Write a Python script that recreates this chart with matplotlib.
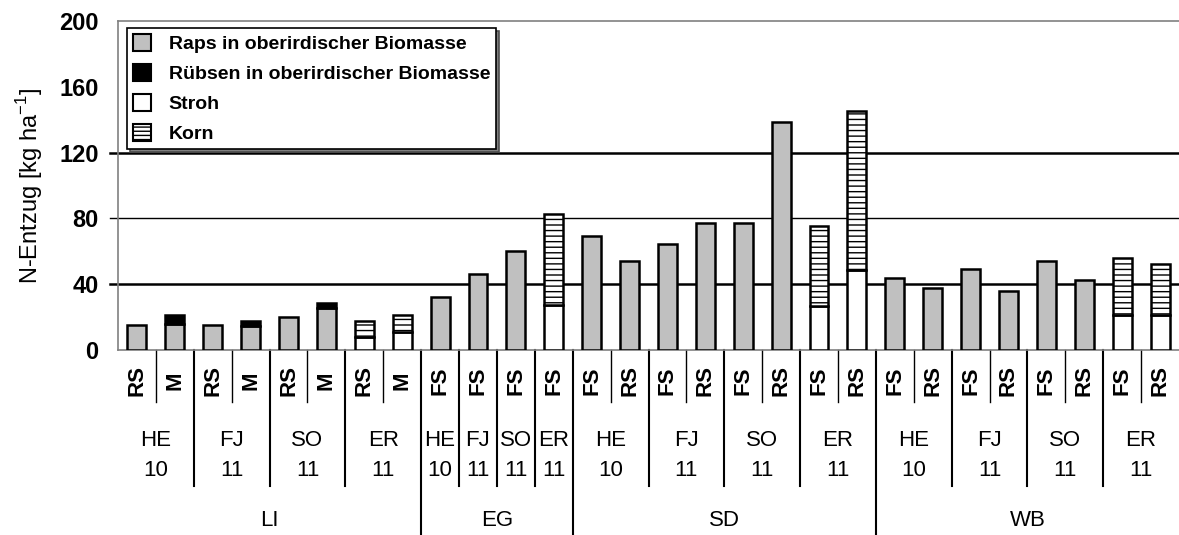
import numpy as np
import matplotlib.pyplot as plt
from matplotlib.patches import Patch
from matplotlib.lines import Line2D

plt.rcParams['font.family'] = ['Liberation Sans', 'DejaVu Sans']
plt.rcParams['hatch.linewidth'] = 1.0

# Varianten je Balken (Zeile 1 der x-Achse)
varianten = ['RS', 'M'] * 4 + ['FS'] * 4 + ['FS', 'RS'] * 8

# Standort/Jahr-Gruppen: (Kürzel, Jahr, Anzahl Balken)
gruppen = [('HE', '10', 2), ('FJ', '11', 2), ('SO', '11', 2), ('ER', '11', 2),
           ('HE', '10', 1), ('FJ', '11', 1), ('SO', '11', 1), ('ER', '11', 1),
           ('HE', '10', 2), ('FJ', '11', 2), ('SO', '11', 2), ('ER', '11', 2),
           ('HE', '10', 2), ('FJ', '11', 2), ('SO', '11', 2), ('ER', '11', 2)]

standorte = [('LI', 8), ('EG', 4), ('SD', 8), ('WB', 8)]

# N-Entzug [kg/ha]
raps = [15, 16, 15, 14.5, 20, 25.5, 0, 0,
        32, 46.5, 60, 0,
        69.5, 54, 64.5, 77, 77, 138.5, 0, 0,
        44, 37.5, 49, 36, 54, 42.5, 0, 0]
ruebsen = [0, 5, 0, 3, 0, 3, 0, 0,
           0, 0, 0, 0,
           0, 0, 0, 0, 0, 0, 0, 0,
           0, 0, 0, 0, 0, 0, 0, 0]
stroh = [0, 0, 0, 0, 0, 0, 8, 11,
         0, 0, 0, 27.5,
         0, 0, 0, 0, 0, 0, 27, 48.5,
         0, 0, 0, 0, 0, 0, 21, 21]
korn = [0, 0, 0, 0, 0, 0, 9.5, 10,
        0, 0, 0, 55,
        0, 0, 0, 0, 0, 0, 48.5, 96.5,
        0, 0, 0, 0, 0, 0, 35, 31.5]

W, H = 1179, 535
fig = plt.figure(figsize=(W / 100, H / 100), dpi=100)
ax = fig.add_axes([118 / W, (H - 350) / H, 1061 / W, 329 / H])

n = len(varianten)
x = np.arange(n)
raps, ruebsen, stroh, korn = map(np.array, (raps, ruebsen, stroh, korn))


def balken(werte, unten, **kw):
    m = werte > 0
    ax.bar(x[m], werte[m], bottom=unten[m], width=0.5, edgecolor='black',
           linewidth=1.8, zorder=3, **kw)


null = np.zeros(n)
balken(raps, null, color='#c0c0c0')
balken(ruebsen, raps, color='black')
balken(stroh, null, color='white')
balken(korn, stroh, color='white', hatch='---')

ax.set_xlim(-0.5, n - 0.5)
ax.set_ylim(0, 200)
ax.set_yticks([0, 40, 80, 120, 160, 200])
ax.tick_params(axis='y', length=0, pad=14, labelsize=17)
for t in ax.get_yticklabels():
    t.set_fontweight('bold')
ax.set_xticks([])

for v, lw in [(40, 1.8), (80, 1.0), (120, 1.8)]:
    ax.plot([-0.72, n - 0.5], [v, v], color='black', lw=lw, clip_on=False, zorder=2)

for s in ['left', 'top', 'bottom']:
    ax.spines[s].set_color('#808080')
    ax.spines[s].set_linewidth(1.2)
ax.spines['right'].set_visible(False)

ax.set_ylabel('N-Entzug [kg ha$^{\\mathregular{-1}}$]', fontsize=17, labelpad=10)

# Beschriftung unter der x-Achse
def ypos(pix):
    return (350 - pix) / 329.0


tr = ax.get_xaxis_transform()
for i, v in enumerate(varianten):
    ax.text(i, ypos(381), v, rotation=90, ha='center', va='center',
            fontsize=16, fontweight='bold', transform=tr)

# Trennlinien
def trenner(xp, tief, lw=1.2):
    ax.add_line(Line2D([xp, xp], [0, ypos(tief)], color='black', lw=lw,
                       transform=tr, clip_on=False))


grenzen_gruppe = set()
pos = 0
for name, jahr, k in gruppen:
    mitte = pos + (k - 1) / 2
    ax.text(mitte, ypos(441), name, ha='center', va='center', fontsize=16, transform=tr)
    ax.text(mitte, ypos(470), jahr, ha='center', va='center', fontsize=16, transform=tr)
    if k == 2:
        trenner(pos + 0.5, 402, 1.0)
    pos += k
    grenzen_gruppe.add(pos - 0.5)

grenzen_standort = set()
pos = 0
for name, k in standorte:
    ax.text(pos + (k - 1) / 2, ypos(520), name, ha='center', va='center',
            fontsize=16, transform=tr)
    pos += k
    grenzen_standort.add(pos - 0.5)

for g in sorted(grenzen_gruppe):
    if g >= n - 0.5:
        continue
    if g in grenzen_standort:
        trenner(g, 540, 1.5)
    else:
        trenner(g, 486, 1.5)

handles = [Patch(facecolor='#c0c0c0', edgecolor='black', lw=1.5),
           Patch(facecolor='black', edgecolor='black', lw=1.5),
           Patch(facecolor='white', edgecolor='black', lw=1.5),
           Patch(facecolor='white', edgecolor='black', lw=1.5, hatch='----')]
labels = ['Raps in oberirdischer Biomasse', 'Rübsen in oberirdischer Biomasse',
          'Stroh', 'Korn']
leg = ax.legend(handles, labels, loc='upper left',
                bbox_to_anchor=((127 - 118) / 1061, ypos(28)),
                prop={'weight': 'bold', 'size': 14},
                frameon=True, fancybox=False, edgecolor='black',
                shadow={'facecolor': '#808080', 'alpha': 1},
                borderpad=0.3, labelspacing=0.55, handlelength=0.95,
                handleheight=1.0, handletextpad=0.9, borderaxespad=0)
leg.get_frame().set_linewidth(1.2)
leg.set_zorder(5)

fig.savefig('out.png', dpi=100, facecolor='white')
